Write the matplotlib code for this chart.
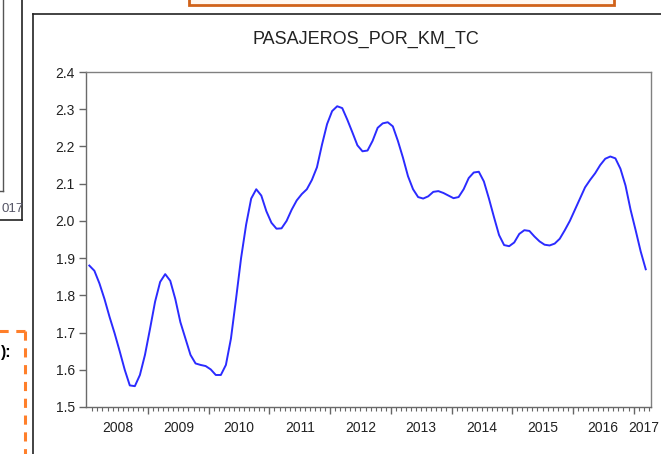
import matplotlib
matplotlib.use("Agg")
import matplotlib.pyplot as plt
from matplotlib.lines import Line2D
from matplotlib.patches import Rectangle
import numpy as np

plt.rcParams['font.family'] = ['Liberation Sans', 'DejaVu Sans']

title = "PASAJEROS_POR_KM_TC"
start_year = 2008
year_labels = ["2008", "2009", "2010", "2011", "2012", "2013", "2014", "2015", "2016", "2017"]
y_ticks = [1.5, 1.6, 1.7, 1.8, 1.9, 2.0, 2.1, 2.2, 2.3, 2.4]

# Monthly values, 2008M01 .. 2017M03
values = [
    1.880, 1.866, 1.832, 1.790, 1.742, 1.698, 1.650, 1.600, 1.558, 1.556, 1.586, 1.640,   # 2008
    1.710, 1.783, 1.836, 1.857, 1.839, 1.790, 1.728, 1.684, 1.640, 1.617, 1.613, 1.610,   # 2009
    1.601, 1.586, 1.586, 1.613, 1.684, 1.790, 1.900, 1.990, 2.060, 2.085, 2.068, 2.026,   # 2010
    1.995, 1.979, 1.980, 2.000, 2.030, 2.055, 2.072, 2.085, 2.110, 2.144, 2.205, 2.260,   # 2011
    2.295, 2.308, 2.303, 2.272, 2.238, 2.203, 2.187, 2.189, 2.215, 2.250, 2.262, 2.265,   # 2012
    2.254, 2.215, 2.170, 2.120, 2.085, 2.064, 2.060, 2.066, 2.078, 2.080, 2.075, 2.068,   # 2013
    2.061, 2.064, 2.085, 2.115, 2.130, 2.132, 2.106, 2.060, 2.010, 1.962, 1.935, 1.932,   # 2014
    1.942, 1.965, 1.975, 1.973, 1.958, 1.945, 1.936, 1.934, 1.939, 1.952, 1.975, 2.000,   # 2015
    2.030, 2.060, 2.090, 2.110, 2.128, 2.150, 2.167, 2.173, 2.168, 2.140, 2.095, 2.030,   # 2016
    1.975, 1.918, 1.870,                                                                  # 2017
]

W, H = 661, 454
fig = plt.figure(figsize=(W / 100, H / 100), dpi=100)
fig.patch.set_facecolor("white")

def fx(px):
    return px / W

def fy(py):
    return 1 - py / H

# --- screenshot surroundings ---
black = "#222222"
fig.add_artist(Line2D([fx(33), fx(33)], [fy(14), fy(H + 2)], color=black, lw=1.2))
fig.add_artist(Line2D([fx(33), fx(W + 2)], [fy(14), fy(14)], color=black, lw=1.2))
fig.add_artist(Line2D([fx(21.5), fx(21.5)], [fy(-2), fy(220)], color=black, lw=1.2))
fig.add_artist(Line2D([fx(-2), fx(21.5)], [fy(220), fy(220)], color=black, lw=1.2))
fig.add_artist(Line2D([fx(3), fx(3)], [fy(-2), fy(191)], color="#555555", lw=1.0))
fig.add_artist(Line2D([fx(-2), fx(3)], [fy(191), fy(191)], color="#555555", lw=1.0))
fig.text(fx(1), fy(209), "017", ha="left", va="center", fontsize=9.5, color="#555566")
fig.add_artist(Line2D([fx(-2), fx(25)], [fy(331), fy(331)], color="#ff7f2a", lw=2.2,
                      linestyle=(0, (3, 2.5))))
fig.add_artist(Line2D([fx(25), fx(25)], [fy(331), fy(H + 2)], color="#ff7f2a", lw=2.2,
                      linestyle=(0, (3, 2.5))))
fig.text(fx(0.5), fy(352), "):", ha="left", va="center", fontsize=11.5, fontweight="bold",
         color="black")
fig.add_artist(Rectangle((fx(189), fy(5)), fx(614) - fx(189), fy(-10) - fy(5),
                         facecolor="#fff7f0", edgecolor="#d0621a", lw=2.0))

# --- chart ---
left_px, right_px, top_px, bot_px = 86, 651, 72, 407
ax = fig.add_axes([fx(left_px), fy(bot_px), fx(right_px) - fx(left_px), fy(top_px) - fy(bot_px)])

n = len(values)
x = start_year + (np.arange(n) + 0.4) / 12.0
ax.plot(x, values, color="#2b2bff", lw=1.4)

px_per_year = 60.7
x0 = start_year - (87.3 - left_px) / px_per_year
x1 = start_year + (right_px - 87.3) / px_per_year
ax.set_xlim(x0, x1)
ax.set_ylim(1.5, 2.4)

ax.set_yticks(y_ticks)
ax.set_yticklabels([f"{v:.1f}" for v in y_ticks])

years = np.arange(start_year + 1, start_year + len(year_labels))
ax.set_xticks(years)
ax.set_xticklabels([])
months = start_year + np.arange(1, 12 * len(year_labels)) / 12.0
months = months[(months < x1) & (np.abs(months - np.round(months)) > 1e-6)]
ax.set_xticks(months, minor=True)

ax.tick_params(axis="y", direction="out", length=5, width=1.0, color="#666666",
               labelsize=10, pad=3, labelcolor="#222222")
ax.tick_params(axis="x", which="major", direction="out", length=5, width=1.0,
               color="#666666")
ax.tick_params(axis="x", which="minor", direction="out", length=3.2, width=0.8,
               color="#666666")

for i, lab in enumerate(year_labels):
    xc = start_year + i + 0.5
    if i == len(year_labels) - 1:
        xc = start_year + (644 - 87.3) / px_per_year
    ax.text(xc, -0.062, lab, transform=ax.get_xaxis_transform(), ha="center", va="center",
            fontsize=10, color="#222222", clip_on=False)

for s in ax.spines.values():
    s.set_color("#808080")
    s.set_linewidth(1.0)
ax.spines["left"].set_color("#6a6a6a")
ax.spines["bottom"].set_color("#6a6a6a")

fig.text(fx((left_px + right_px) / 2 - 3), fy(39), title, ha="center", va="center",
         fontsize=13, color="#222222")

fig.savefig("out.png", dpi=100)
